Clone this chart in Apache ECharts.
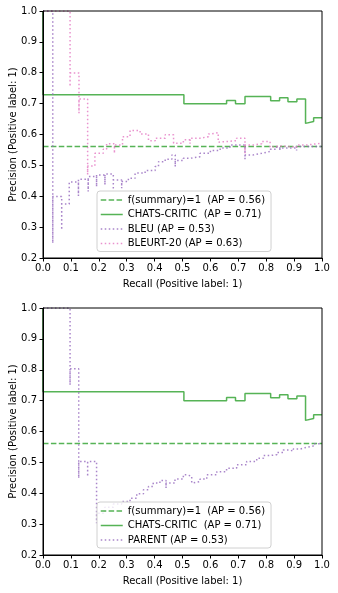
<!DOCTYPE html>
<html><head><meta charset="utf-8">
<script src="https://cdn.jsdelivr.net/npm/echarts@6/dist/echarts.min.js"></script>
<style>html,body{margin:0;padding:0;background:#fff}#c{width:338px;height:593px}</style>
</head><body><div id="c"></div>
<script>
// Tick labels
const xTickLabels = ['0.0','0.1','0.2','0.3','0.4','0.5','0.6','0.7','0.8','0.9','1.0'];
const yTickLabels = ['0.2','0.3','0.4','0.5','0.6','0.7','0.8','0.9','1.0'];

// Series names
const nameBase = 'f(summary)=1  (AP = 0.56)';
const nameChats = 'CHATS-CRITIC  (AP = 0.71)';
const nameBleu = 'BLEU (AP = 0.53)';
const nameBleurt = 'BLEURT-20 (AP = 0.63)';
const nameParent = 'PARENT (AP = 0.53)';

// Baseline (positive rate)
const baseRecall = [0, 1];
const basePrecision = [0.561, 0.561];

// CHATS-CRITIC (ascending recall)
const chatsRecall    = [0, 0.505, 0.658, 0.690, 0.724, 0.816, 0.848, 0.878, 0.910, 0.941, 0.941, 0.970, 1.0];
const chatsPrecision = [1.0, 0.729, 0.700, 0.710, 0.700, 0.723, 0.709, 0.719, 0.706, 0.715, 0.636, 0.642, 0.654];

// BLEU
const bleuRecall = [0, 0.035, 0.035, 0.067, 0.067, 0.094, 0.127, 0.127, 0.162, 0.162, 0.192, 0.192, 0.222, 0.222,
  0.252, 0.252, 0.282, 0.282, 0.306, 0.330, 0.366, 0.402, 0.414, 0.438, 0.462, 0.474, 0.474, 0.503, 0.527, 0.563,
  0.600, 0.635, 0.670, 0.724, 0.724, 0.754, 0.784, 0.814, 0.836, 0.849, 0.849, 0.909, 0.909, 1.0];
const bleuPrecision = [1.0, 1.0, 0.248, 0.399, 0.291, 0.375, 0.446, 0.401, 0.455, 0.415, 0.464, 0.431, 0.469, 0.437,
  0.472, 0.421, 0.453, 0.426, 0.448, 0.458, 0.475, 0.483, 0.496, 0.512, 0.520, 0.534, 0.496, 0.516, 0.523, 0.528,
  0.539, 0.548, 0.556, 0.566, 0.520, 0.534, 0.539, 0.545, 0.552, 0.559, 0.548, 0.556, 0.548, 0.561];

// BLEURT-20
const bleurtRecall = [0, 0.097, 0.097, 0.129, 0.129, 0.160, 0.160, 0.186, 0.216, 0.228, 0.256, 0.256, 0.285, 0.312,
  0.348, 0.378, 0.402, 0.438, 0.468, 0.503, 0.527, 0.527, 0.563, 0.593, 0.605, 0.628, 0.628, 0.694, 0.724, 0.724,
  0.754, 0.784, 0.814, 0.814, 0.849, 0.909, 0.945, 1.0];
const bleurtPrecision = [1.0, 1.0, 0.755, 0.799, 0.669, 0.715, 0.470, 0.498, 0.539, 0.552, 0.570, 0.539, 0.566, 0.593,
  0.613, 0.602, 0.580, 0.588, 0.599, 0.572, 0.583, 0.570, 0.588, 0.593, 0.602, 0.606, 0.575, 0.580, 0.588, 0.539,
  0.566, 0.570, 0.577, 0.558, 0.563, 0.559, 0.566, 0.572];

// PARENT
const parentRecall = [0, 0.097, 0.097, 0.128, 0.128, 0.160, 0.160, 0.192, 0.192, 0.222, 0.252, 0.282, 0.312, 0.336,
  0.360, 0.378, 0.395, 0.419, 0.441, 0.441, 0.473, 0.503, 0.515, 0.533, 0.533, 0.563, 0.587, 0.623, 0.658, 0.694,
  0.730, 0.766, 0.790, 0.814, 0.838, 0.861, 0.885, 0.897, 0.921, 0.945, 0.969, 1.0];
const parentPrecision = [1.0, 1.0, 0.751, 0.803, 0.449, 0.503, 0.454, 0.503, 0.303, 0.335, 0.355, 0.365, 0.373, 0.384,
  0.398, 0.411, 0.422, 0.433, 0.441, 0.417, 0.433, 0.446, 0.460, 0.455, 0.433, 0.438, 0.446, 0.460, 0.470, 0.481,
  0.492, 0.503, 0.513, 0.522, 0.525, 0.532, 0.540, 0.536, 0.543, 0.549, 0.553, 0.560];

const FONT = 'DejaVu Sans';
const GREEN = '#2ca02c', PURPLE = '#9467bd', PINK = '#e377c2';
const DASH = [5.5, 2.4], DOT = [1.5, 2.5];

function pairs(xs, ys) { return xs.map((x, i) => [x, ys[i]]); }
function mk(name, xs, ys, color, type, g, step) {
  return {
    type: 'line', name, xAxisIndex: g, yAxisIndex: g, data: pairs(xs, ys),
    step: step ? 'start' : false, symbol: 'none', showSymbol: false, animation: false, clip: true, z: 2,
    lineStyle: { color, width: 1.5, type, opacity: 0.8 }, itemStyle: { color, opacity: 0.8 }
  };
}
function xAx(g) {
  return {
    type: 'value', gridIndex: g, min: 0, max: 1, interval: 0.1, z: 5,
    axisLine: { show: true, onZero: false, lineStyle: { color: '#000', width: 1 } },
    axisTick: { show: true, length: 3.5, lineStyle: { color: '#000', width: 1 } },
    axisLabel: { color: '#000', fontSize: 10, fontFamily: FONT, margin: 5,
      formatter: v => xTickLabels[Math.round(v * 10)] },
    splitLine: { show: false },
    name: 'Recall (Positive label: 1)', nameLocation: 'middle', nameGap: 21, nameMoveOverlap: false,
    nameTextStyle: { color: '#000', fontSize: 10, fontFamily: FONT }
  };
}
function yAx(g) {
  return {
    type: 'value', gridIndex: g, min: 0.2, max: 1.0, interval: 0.1, z: 5,
    axisLine: { show: true, onZero: false, lineStyle: { color: '#000', width: 1 } },
    axisTick: { show: true, length: 3.5, lineStyle: { color: '#000', width: 1 } },
    axisLabel: { color: '#000', fontSize: 10, fontFamily: FONT, margin: 6,
      formatter: v => yTickLabels[Math.round(v * 10) - 2] },
    splitLine: { show: false },
    name: 'Precision (Positive label: 1)', nameLocation: 'middle', nameGap: 25, nameMoveOverlap: false,
    nameTextStyle: { color: '#000', fontSize: 10, fontFamily: FONT }
  };
}
function lg(top, names) {
  return {
    orient: 'vertical', left: 97, top, data: names, selectedMode: false, z: 10,
    padding: [4, 6, 3, 3], itemWidth: 22, itemHeight: 10, itemGap: 4.5, itemTextGap: 7,
    borderColor: '#d0d0d0', borderWidth: 1, borderRadius: 3,
    backgroundColor: 'rgba(255,255,255,0.8)',
    itemStyle: { opacity: 0 },
    lineStyle: { width: 1.5, opacity: 0.8 },
    textStyle: { color: '#000', fontSize: 10, fontFamily: FONT }
  };
}
function gr(top) {
  return { left: 43, right: 16, top, height: 247, show: true, z: 5, borderColor: '#000', borderWidth: 1,
    backgroundColor: 'transparent', containLabel: false, outerBoundsMode: 'none' };
}

const chart = echarts.init(document.getElementById('c'), null, { renderer: 'canvas' });
chart.setOption({
  animation: false,
  backgroundColor: '#fff',
  grid: [gr(11), gr(308)],
  xAxis: [xAx(0), xAx(1)],
  yAxis: [yAx(0), yAx(1)],
  legend: [
    lg(191, [nameBase, nameChats, nameBleu, nameBleurt]),
    lg(502, [nameBase, nameChats, nameParent])
  ],
  series: [
    mk(nameBase, baseRecall, basePrecision, GREEN, DASH, 0, false),
    mk(nameChats, chatsRecall, chatsPrecision, GREEN, 'solid', 0, true),
    mk(nameBleu, bleuRecall, bleuPrecision, PURPLE, DOT, 0, true),
    mk(nameBleurt, bleurtRecall, bleurtPrecision, PINK, DOT, 0, true),
    mk(nameBase, baseRecall, basePrecision, GREEN, DASH, 1, false),
    mk(nameChats, chatsRecall, chatsPrecision, GREEN, 'solid', 1, true),
    mk(nameParent, parentRecall, parentPrecision, PURPLE, DOT, 1, true)
  ]
});
</script></body></html>
